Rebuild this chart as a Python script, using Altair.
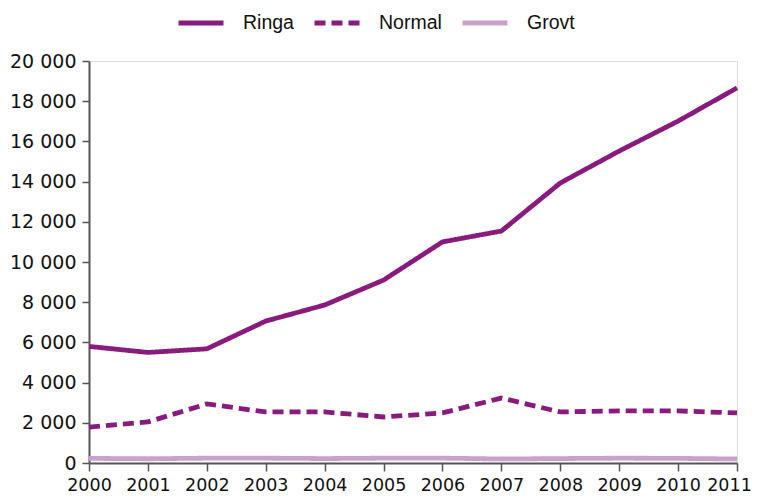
import altair as alt
import pandas as pd

years = list(range(2000, 2012))
ringa = [5800, 5500, 5680, 7060, 7860, 9100, 11000, 11540, 13930, 15520, 17010, 18660]
normal = [1790, 2040, 2940, 2540, 2540, 2290, 2490, 3230, 2540, 2590, 2590, 2490]
grovt = [230, 210, 240, 240, 220, 240, 240, 200, 220, 240, 230, 200]

series_names = ["Ringa", "Normal", "Grovt"]
series_colors = ["#8A1B7E", "#8A1B7E", "#C9A2CB"]
series_dash = [[1, 0], [11, 6], [1, 0]]

rows = []
for name, vals in zip(series_names, [ringa, normal, grovt]):
    for y, v in zip(years, vals):
        rows.append({"year": y, "value": v, "serie": name})
df = pd.DataFrame(rows)

tick_font = "DejaVu Sans"
legend_font = "Liberation Sans"

legend = alt.Legend(title=None, orient="none", direction="horizontal",
                    legendX=87, legendY=-63, symbolType="stroke",
                    symbolStrokeWidth=5, symbolSize=2025,
                    labelFontSize=19.5, labelFont=legend_font, labelColor="#111",
                    columnPadding=10, labelOffset=17)

chart = alt.Chart(df).mark_line(strokeWidth=4.8).encode(
    x=alt.X("year:Q", scale=alt.Scale(domain=[2000, 2011], nice=False, zero=False),
            axis=alt.Axis(values=years, format="d", title=None, grid=False,
                          tickSize=8, labelPadding=5, labelFontSize=17.5, labelFont=tick_font,
                          labelColor="#111", domainColor="#555", tickColor="#555",
                          domainWidth=2, tickWidth=1.5, labelFlush=False, labelOverlap=False,
                          labelOffset={"condition": {"test": "datum.value == 2011", "value": -8},
                                       "value": 0})),
    y=alt.Y("value:Q", scale=alt.Scale(domain=[0, 20000], nice=False),
            axis=alt.Axis(values=list(range(0, 20001, 2000)), title=None, grid=False,
                          tickSize=7, labelPadding=6, labelFontSize=19, labelFont=tick_font,
                          labelColor="#111", domainColor="#555", tickColor="#555",
                          domainWidth=2, tickWidth=1.5,
                          labelExpr="replace(format(datum.value, ','), ',', ' ')")),
    color=alt.Color("serie:N", scale=alt.Scale(domain=series_names, range=series_colors),
                    legend=legend),
    strokeDash=alt.StrokeDash("serie:N", scale=alt.Scale(domain=series_names, range=series_dash),
                              legend=legend),
).properties(
    width=648, height=402,
    autosize=alt.AutoSizeParams(type="none"),
    padding={"left": 81, "top": 53, "right": 15, "bottom": 31},
).configure_view(stroke="#B4C2D0", strokeWidth=1.5).configure(background="white")

chart.save("out.html", embed_options={"renderer": "svg", "actions": False})
